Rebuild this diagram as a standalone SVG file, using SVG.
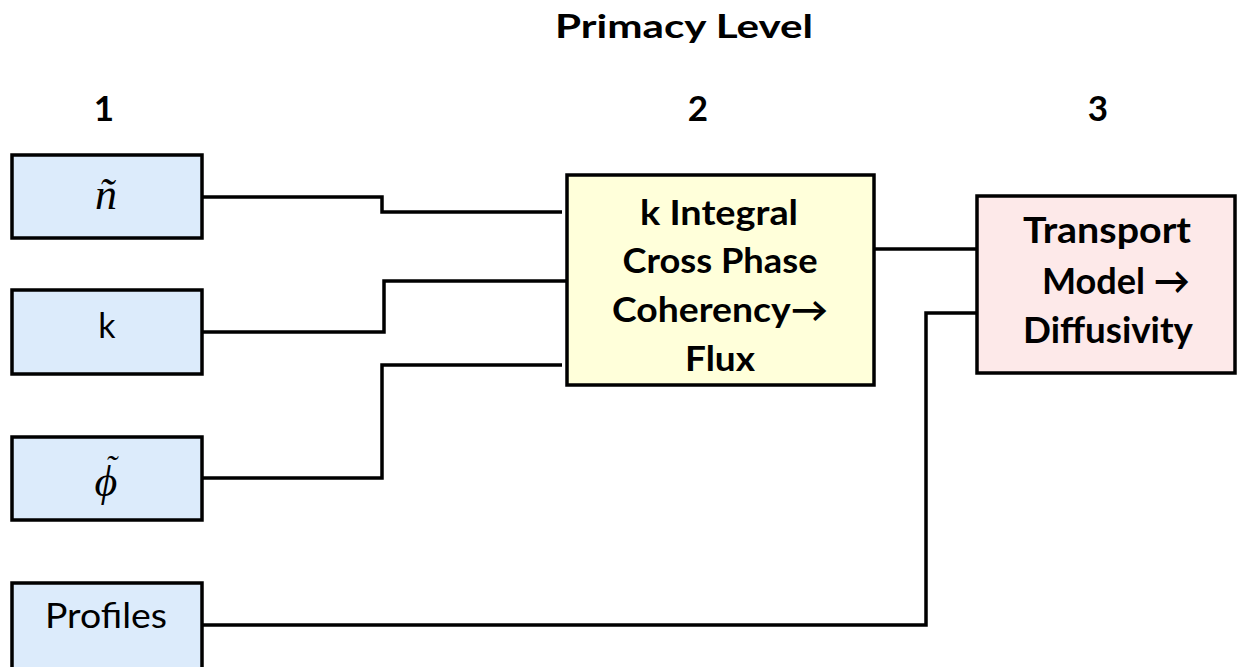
<svg xmlns="http://www.w3.org/2000/svg" width="1238" height="667" viewBox="0 0 1238 667">
  <style>
    .box { stroke: #000; stroke-width: 3.5; }
    .in { fill: #dcebfb; }
    .mid { fill: #ffffda; }
    .out { fill: #fde9e9; }
    .wire { fill: none; stroke: #000; stroke-width: 3.5; stroke-linejoin: miter; }
    .hd { font-family: Lato, "Open Sans", sans-serif; font-weight: bold; font-size: 32px; fill: #000; text-anchor: middle; }
    .num { font-family: Lato, "Open Sans", sans-serif; font-weight: bold; font-size: 35px; fill: #000; text-anchor: middle; }
    .bt { font-family: Lato, "Open Sans", sans-serif; font-weight: bold; font-size: 34px; fill: #000; text-anchor: middle; }
    .bt3 { font-family: Lato, "Open Sans", sans-serif; font-weight: bold; font-size: 37px; fill: #000; text-anchor: middle; }
    .rt { font-family: Lato, "Open Sans", sans-serif; font-size: 34px; fill: #000; text-anchor: middle; }
    .math { font-family: "Liberation Serif", "DejaVu Serif", serif; font-style: italic; font-size: 44px; fill: #000; text-anchor: middle; }
  </style>

  <!-- headings -->
  <text class="hd" x="684" y="38" textLength="258" lengthAdjust="spacingAndGlyphs">Primacy Level</text>
  <text class="num" x="104" y="121">1</text>
  <text class="num" x="698" y="121">2</text>
  <text class="num" x="1098" y="121">3</text>

  <!-- connectors -->
  <g id="connectors">
    <path class="wire" d="M202,197 H382 V212 H562"/>
    <path class="wire" d="M202,332 H384 V281 H567"/>
    <path class="wire" d="M202,478 H382 V365 H562"/>
    <path class="wire" d="M874,249 H977"/>
    <path class="wire" d="M202,625 H926 V313 H977"/>
  </g>

  <!-- level 1 inputs -->
  <g id="n-tilde">
    <rect class="box in" x="12" y="155" width="190" height="83"/>
    <text class="math" x="106" y="209">ñ</text>
  </g>
  <g id="k">
    <rect class="box in" x="12" y="290" width="190" height="84"/>
    <text class="rt" x="107" y="338">k</text>
  </g>
  <g id="phi-tilde">
    <rect class="box in" x="12" y="437" width="190" height="83"/>
    <!-- phi with a tilde set above it -->
    <text class="math" x="106" y="496">ϕ<tspan x="111" y="479" font-size="34">˜</tspan></text>
  </g>
  <g id="profiles">
    <rect class="box in" x="12" y="583" width="190" height="90"/>
    <text class="rt" x="106" y="628" textLength="122" lengthAdjust="spacingAndGlyphs">Profiles</text>
  </g>

  <!-- level 2 -->
  <g id="flux">
    <rect class="box mid" x="567" y="175" width="307" height="210"/>
    <text class="bt" x="719" y="225" textLength="158" lengthAdjust="spacingAndGlyphs">k Integral</text>
    <text class="bt" x="720" y="273" textLength="195" lengthAdjust="spacingAndGlyphs">Cross Phase</text>
    <text class="bt" x="720" y="322" textLength="216" lengthAdjust="spacingAndGlyphs">Coherency→</text>
    <text class="bt" x="720" y="371" textLength="70" lengthAdjust="spacingAndGlyphs">Flux</text>
  </g>

  <!-- level 3 -->
  <g id="diffusivity">
    <rect class="box out" x="977" y="196" width="258" height="177"/>
    <text class="bt3" x="1107" y="243" textLength="168" lengthAdjust="spacingAndGlyphs">Transport</text>
    <text class="bt3" x="1116" y="294" textLength="148" lengthAdjust="spacingAndGlyphs">Model →</text>
    <text class="bt3" x="1108" y="343" textLength="170" lengthAdjust="spacingAndGlyphs">Diffusivity</text>
  </g>
</svg>
